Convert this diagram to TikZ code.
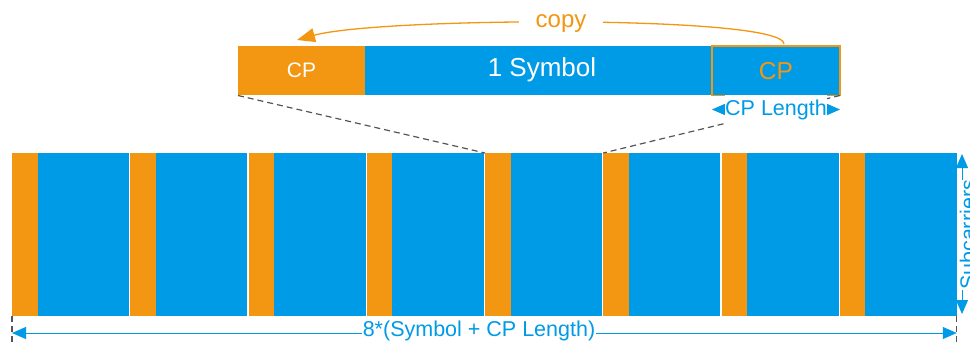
\documentclass[tikz,border=0pt]{standalone}
\usepackage{fontspec}
\setmainfont{Liberation Sans}
\usetikzlibrary{arrows.meta,calc}
\definecolor{cporange}{RGB}{243,150,17}
\definecolor{symblue}{RGB}{0,155,231}
\definecolor{dashgray}{RGB}{85,85,85}
\begin{document}
\begin{tikzpicture}[x=1pt,y=-1pt,
  blkbase/.style={draw=none,inner sep=0pt,outer sep=0pt,anchor=north west},
  cpblk/.style={blkbase,fill=cporange,text=white},
  syblk/.style={blkbase,fill=symblue,text=white},
  dimarrow/.style={draw=symblue,line width=1pt,{Triangle[length=14pt,width=12pt]}-{Triangle[length=14pt,width=12pt]}},
  dashln/.style={draw=dashgray,dash pattern=on 6pt off 4pt,line width=1.2pt},
  bluelbl/.style={text=symblue,fill=white,inner xsep=0pt,inner ysep=2pt,font=\fontsize{21.5}{22}\selectfont}
]
\useasboundingbox (0,0) rectangle (970,345);

% ---- top enlarged symbol ----
\node[cpblk,minimum width=127pt,minimum height=49.5pt,font=\fontsize{21}{21}\selectfont] (tcp) at (238,46) {CP};
\node[syblk,minimum width=475pt,minimum height=49.5pt] (tsym) at (365,46) {};
\node[blkbase,draw=cporange,line width=1.5pt,minimum width=128pt,minimum height=49.5pt,text=cporange,font=\fontsize{24.5}{25}\selectfont] (tcp2) at (712,46) {CP};
\node[text=white,font=\fontsize{26}{26}\selectfont,inner sep=0pt] (symlbl) at (542,70) {1 Symbol};

% copy arc
\coordinate (cs) at (784,44);
\coordinate (ce) at (297,40);
\draw[cporange,line width=1.3pt,-{Triangle[length=18pt,width=14pt]}] (cs) .. controls (784,15) and (380,17) .. (ce);
\node[fill=white,text=cporange,inner xsep=17pt,inner ysep=2pt,anchor=base,font=\fontsize{24}{24}\selectfont] (copylbl) at (561,28) {copy};

% ---- bottom frame ----
\foreach \i in {0,...,7} {
  \pgfmathsetmacro\xx{12+118.25*\i}
  \node[cpblk,minimum width=25.5pt,minimum height=162.5pt] (o\i) at (\xx,153) {};
  \node[syblk,minimum width=91.5pt,minimum height=162.5pt] (b\i) at ({\xx+25.5},153) {};
}

% zoom dashed lines
\draw[dashln] (tcp.south west) -- (o4.north west);
\draw[dashln] (tcp2.south east) -- (o5.north west);

% CP length
\coordinate (cla) at ([yshift=-14pt]tcp2.south west);
\coordinate (clb) at ([yshift=-14pt]tcp2.south east);
\draw[dimarrow] (cla) -- (clb);
\node[bluelbl,inner ysep=4pt] (cplen) at ($(cla)!0.5!(clb)$) {CP Length};

% bottom dimension
\coordinate (ta) at (o0.south west |- 0,345);
\coordinate (tb) at (b7.south east |- 0,345);
\draw[dashln] (o0.south west) -- (ta);
\draw[dashln] (b7.south east) -- (tb);
\coordinate (da) at (o0.south west |- 0,333);
\coordinate (db) at (b7.south east |- 0,333);
\draw[dimarrow] (da) -- (db);
\node[bluelbl,inner xsep=1pt] (totlbl) at (479,331) {8*(Symbol + CP Length)};

% subcarriers
\coordinate (sa) at (962,154);
\coordinate (sb) at (962,314);
\draw[dimarrow] (sa) -- (sb);
\node[bluelbl,inner ysep=0pt,rotate=90,anchor=north] (sublbl) at (959.5,235) {Subcarriers};
\end{tikzpicture}
\end{document}
